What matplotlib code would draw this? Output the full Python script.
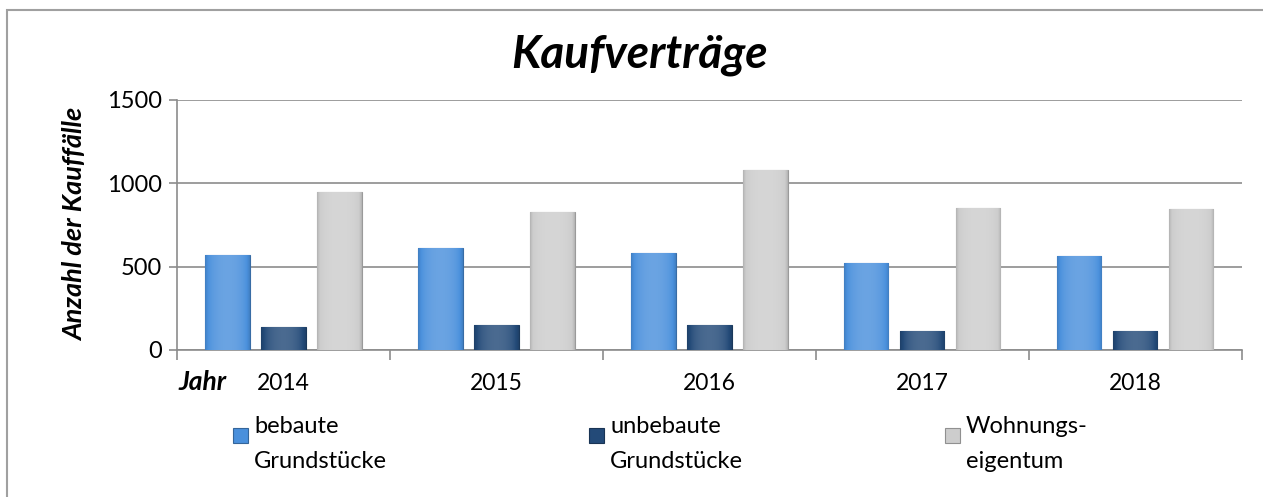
import numpy as np
import matplotlib
matplotlib.use("Agg")
import matplotlib.pyplot as plt
from matplotlib.colors import to_rgb
from matplotlib.patches import Rectangle

years = ["2014", "2015", "2016", "2017", "2018"]
bebaut = [570, 612, 582, 522, 564]
unbebaut = [138, 150, 150, 114, 114]
wohnung = [950, 828, 1080, 850, 846]
labels = ["bebaute\nGrundstücke", "unbebaute\nGrundstücke", "Wohnungs-\neigentum"]
colors = ["#4a90dc", "#234a78", "#cdcdcd"]

plt.rcParams['font.family'] = ['Lato', 'DejaVu Sans']

W, H = 1263, 497
fig = plt.figure(figsize=(W / 100, H / 100), dpi=100)
ax = fig.add_axes([0.140, 0.296, 0.843, 0.503])

# frame around whole chart (runs off right and bottom edge like the original)
fig.patches.append(Rectangle((7 / W, -0.05), 1.05, 1.05 - 10 / H, transform=fig.transFigure,
                             fill=False, edgecolor="#a0a0a0", linewidth=1.5))

x = np.arange(len(years))
w = 0.21
step = 0.263
series = [bebaut, unbebaut, wohnung]


def shade(c, f):
    r = np.array(to_rgb(c))
    if f > 0:
        return r + (1 - r) * f
    return r * (1 + f)


for i, (vals, c) in enumerate(zip(series, colors)):
    bars = ax.bar(x + (i - 1) * step, vals, w, color=c, edgecolor=shade(c, -0.25),
                  linewidth=0.8, zorder=3)
    # horizontal gradient to mimic bevelled bars
    prof = np.linspace(-1, 1, 60)
    fac = 0.18 * (1 - prof ** 2) - 0.12 * prof ** 8
    grad = np.clip(np.array([shade(c, f) for f in fac])[None, :, :], 0, 1)
    for b in bars:
        x0, y0 = b.get_x(), b.get_y()
        im = ax.imshow(grad, extent=[x0, x0 + b.get_width(), y0, y0 + b.get_height()],
                       aspect='auto', zorder=3.5, interpolation='bilinear')
        im.set_clip_path(b)

ax.set_xlim(-0.5, len(years) - 0.5)
ax.set_ylim(0, 1500)
ax.set_yticks([0, 500, 1000, 1500])
ax.set_xticks(x)
ax.set_xticklabels(years)
ax.set_xticks(np.arange(-0.5, len(years), 1.0), minor=True)
ax.tick_params(axis='x', which='major', length=0, pad=17, labelsize=16.5)
ax.tick_params(axis='x', which='minor', length=7, color="#8c8c8c", width=1.2)
ax.tick_params(axis='y', length=6, color="#8c8c8c", width=1.2, labelsize=17, pad=5)
ax.grid(axis='y', color="#8c8c8c", linewidth=1.2, zorder=0)
ax.set_axisbelow(True)
for s in ["top", "right"]:
    ax.spines[s].set_visible(False)
for s in ["left", "bottom"]:
    ax.spines[s].set_color("#8c8c8c")
    ax.spines[s].set_linewidth(1.2)

fig.text(75 / W, 1 - 224 / H, "Anzahl der Kauffälle", rotation=90, ha='center', va='center',
         fontsize=19.5, fontweight='bold', style='italic')
fig.text(640 / W, 1 - 68 / H, "Kaufverträge", ha='center', va='baseline', fontsize=33,
         fontweight='bold', style='italic')
fig.text(178 / W, 1 - 390 / H, "Jahr", ha='left', va='baseline', fontsize=19,
         fontweight='bold', style='italic')

# legend: marker next to first line of each two-line label
for i, (lab, c) in enumerate(zip(labels, colors)):
    mx = 233 + i * 356
    fig.patches.append(Rectangle((mx / W, 1 - 443 / H), 15 / W, 15 / H,
                                 transform=fig.transFigure, facecolor=c,
                                 edgecolor=shade(c, -0.3), linewidth=0.8))
    fig.text((mx + 21) / W, 1 - 435 / H, lab, ha='left', va='center_baseline',
             fontsize=17, linespacing=1.8)

fig.savefig("out.png", dpi=100)
